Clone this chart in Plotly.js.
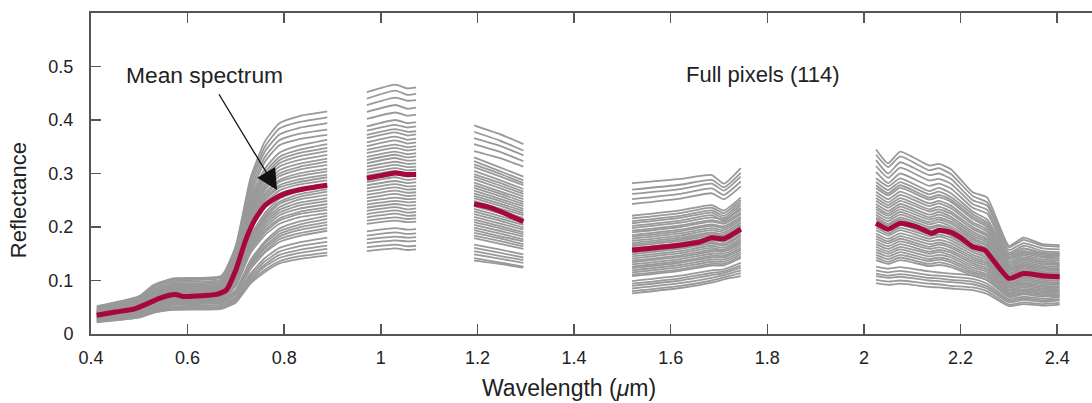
<!DOCTYPE html>
<html>
<head>
<meta charset="utf-8">
<script src="https://cdn.plot.ly/plotly-3.0.1.min.js"></script>
<style>html,body{margin:0;padding:0;background:#fff;}#chart{width:1092px;height:403px;}</style>
</head>
<body>
<div id="chart"></div>
<script>
// Wavelength grids (µm) of the gray pixel spectra, one per band segment
const wlVNIR = [0.412, 0.50, 0.53, 0.57, 0.67, 0.70, 0.73, 0.76, 0.79, 0.83, 0.889];
const wlS1 = [0.971, 1.03, 1.055, 1.073];
const wlS2 = [1.193, 1.245, 1.295];
const wlS3 = [1.52, 1.62, 1.685, 1.71, 1.745];
const wlS4 = [2.025, 2.05, 2.075, 2.135, 2.155, 2.18, 2.225, 2.255, 2.30, 2.33, 2.37, 2.405];

// Reflectance of the individual pixels (rows), per segment
const pixVNIR = [
[0.052,0.071,0.092,0.104,0.109,0.166,0.291,0.360,0.394,0.407,0.416],
[0.051,0.069,0.090,0.102,0.107,0.163,0.284,0.350,0.384,0.396,0.405],
[0.050,0.068,0.088,0.100,0.105,0.159,0.276,0.341,0.373,0.385,0.394],
[0.049,0.066,0.085,0.097,0.102,0.154,0.268,0.331,0.362,0.374,0.382],
[0.047,0.064,0.083,0.094,0.099,0.150,0.261,0.322,0.353,0.364,0.372],
[0.046,0.063,0.081,0.092,0.097,0.146,0.255,0.309,0.339,0.352,0.363],
[0.045,0.061,0.079,0.090,0.095,0.143,0.249,0.302,0.331,0.344,0.355],
[0.044,0.060,0.077,0.088,0.092,0.140,0.244,0.296,0.325,0.338,0.348],
[0.043,0.059,0.077,0.087,0.091,0.138,0.240,0.291,0.319,0.332,0.342],
[0.043,0.058,0.076,0.086,0.090,0.136,0.235,0.285,0.313,0.325,0.335],
[0.042,0.057,0.074,0.084,0.088,0.133,0.230,0.279,0.306,0.318,0.328],
[0.041,0.056,0.073,0.083,0.087,0.131,0.226,0.274,0.300,0.312,0.322],
[0.041,0.056,0.072,0.082,0.086,0.129,0.222,0.269,0.295,0.307,0.316],
[0.040,0.054,0.070,0.080,0.084,0.126,0.217,0.263,0.288,0.300,0.309],
[0.040,0.054,0.070,0.079,0.083,0.124,0.214,0.259,0.284,0.295,0.304],
[0.039,0.053,0.069,0.078,0.082,0.122,0.210,0.254,0.278,0.289,0.298],
[0.038,0.052,0.068,0.077,0.081,0.120,0.207,0.250,0.274,0.284,0.293],
[0.038,0.051,0.066,0.075,0.079,0.117,0.202,0.245,0.268,0.279,0.287],
[0.037,0.050,0.065,0.074,0.078,0.115,0.198,0.240,0.262,0.273,0.281],
[0.037,0.050,0.064,0.073,0.077,0.108,0.183,0.226,0.253,0.267,0.277],
[0.036,0.049,0.063,0.072,0.076,0.106,0.179,0.221,0.247,0.261,0.271],
[0.035,0.048,0.062,0.071,0.075,0.104,0.176,0.217,0.243,0.256,0.266],
[0.035,0.048,0.062,0.070,0.074,0.102,0.173,0.213,0.237,0.251,0.260],
[0.034,0.046,0.060,0.068,0.071,0.100,0.168,0.208,0.232,0.245,0.254],
[0.034,0.046,0.059,0.067,0.070,0.098,0.165,0.204,0.227,0.240,0.249],
[0.033,0.045,0.058,0.066,0.069,0.096,0.162,0.199,0.222,0.234,0.243],
[0.033,0.044,0.057,0.065,0.068,0.094,0.158,0.194,0.216,0.228,0.237],
[0.032,0.044,0.056,0.064,0.067,0.093,0.155,0.190,0.212,0.224,0.232],
[0.031,0.042,0.055,0.062,0.065,0.090,0.151,0.185,0.206,0.218,0.226],
[0.031,0.041,0.054,0.061,0.064,0.083,0.138,0.173,0.197,0.210,0.221],
[0.030,0.041,0.053,0.060,0.063,0.082,0.134,0.169,0.192,0.204,0.215],
[0.030,0.040,0.052,0.059,0.062,0.080,0.131,0.164,0.187,0.199,0.209],
[0.029,0.039,0.051,0.058,0.061,0.078,0.128,0.160,0.182,0.194,0.204],
[0.028,0.038,0.049,0.056,0.059,0.076,0.124,0.155,0.177,0.188,0.198],
[0.028,0.037,0.048,0.055,0.058,0.074,0.121,0.152,0.172,0.183,0.193],
[0.026,0.035,0.046,0.052,0.055,0.070,0.113,0.142,0.161,0.171,0.180],
[0.025,0.035,0.045,0.051,0.054,0.068,0.109,0.136,0.154,0.164,0.172],
[0.025,0.033,0.043,0.049,0.051,0.065,0.105,0.130,0.148,0.157,0.165],
[0.024,0.033,0.042,0.048,0.050,0.064,0.101,0.126,0.142,0.151,0.159],
[0.023,0.031,0.040,0.046,0.048,0.061,0.097,0.120,0.136,0.145,0.152],
[0.022,0.031,0.040,0.045,0.047,0.059,0.094,0.116,0.132,0.140,0.147]
];
const pixS1 = [
[0.452,0.466,0.459,0.461],[0.440,0.455,0.447,0.449],[0.428,0.442,0.436,0.437],[0.415,0.428,0.421,0.423],
[0.402,0.414,0.408,0.410],[0.388,0.400,0.394,0.396],[0.380,0.391,0.386,0.388],[0.372,0.383,0.378,0.379],
[0.366,0.377,0.371,0.373],[0.358,0.369,0.363,0.365],[0.351,0.362,0.356,0.358],[0.344,0.354,0.349,0.351],
[0.338,0.348,0.343,0.345],[0.331,0.341,0.336,0.338],[0.325,0.335,0.330,0.332],[0.319,0.329,0.324,0.325],
[0.313,0.322,0.318,0.319],[0.307,0.316,0.312,0.313],[0.301,0.310,0.306,0.307],[0.296,0.305,0.300,0.302],
[0.290,0.299,0.294,0.296],[0.284,0.293,0.288,0.290],[0.278,0.286,0.282,0.284],[0.272,0.280,0.276,0.277],
[0.266,0.274,0.270,0.271],[0.260,0.268,0.264,0.265],[0.254,0.262,0.258,0.259],[0.248,0.255,0.252,0.253],
[0.242,0.249,0.246,0.247],[0.236,0.243,0.240,0.241],[0.230,0.237,0.233,0.235],[0.224,0.231,0.227,0.228],
[0.218,0.225,0.221,0.222],[0.212,0.218,0.215,0.216],[0.206,0.212,0.209,0.210],[0.192,0.198,0.195,0.196],
[0.184,0.190,0.187,0.188],[0.177,0.182,0.180,0.181],[0.170,0.175,0.173,0.174],[0.162,0.167,0.164,0.165],
[0.155,0.160,0.157,0.158]
];
const pixS2 = [
[0.390,0.374,0.355],[0.378,0.362,0.343],[0.366,0.352,0.334],[0.355,0.341,0.323],[0.342,0.329,0.313],
[0.330,0.312,0.294],[0.323,0.305,0.287],[0.317,0.300,0.282],[0.312,0.295,0.278],[0.305,0.288,0.271],
[0.299,0.283,0.266],[0.294,0.278,0.262],[0.289,0.273,0.257],[0.283,0.267,0.252],[0.278,0.263,0.247],
[0.273,0.258,0.243],[0.268,0.253,0.239],[0.263,0.249,0.234],[0.258,0.244,0.230],[0.254,0.240,0.226],
[0.249,0.235,0.222],[0.244,0.231,0.217],[0.239,0.226,0.213],[0.234,0.221,0.208],[0.229,0.216,0.204],
[0.224,0.212,0.199],[0.219,0.207,0.195],[0.214,0.202,0.190],[0.209,0.198,0.186],[0.204,0.193,0.182],
[0.199,0.188,0.177],[0.194,0.183,0.173],[0.189,0.179,0.168],[0.184,0.174,0.164],[0.179,0.169,0.159],
[0.167,0.158,0.149],[0.161,0.152,0.143],[0.155,0.146,0.138],[0.149,0.141,0.133],[0.142,0.134,0.126],
[0.137,0.131,0.124]
];
const pixS3 = [
[0.282,0.290,0.297,0.281,0.310],[0.270,0.279,0.288,0.274,0.301],[0.262,0.271,0.281,0.268,0.294],
[0.252,0.262,0.272,0.260,0.285],[0.243,0.253,0.263,0.252,0.276],[0.221,0.231,0.241,0.231,0.255],
[0.216,0.226,0.236,0.226,0.250],[0.211,0.221,0.231,0.221,0.245],[0.207,0.217,0.227,0.217,0.241],
[0.202,0.212,0.222,0.212,0.236],[0.198,0.208,0.218,0.214,0.232],[0.193,0.203,0.213,0.209,0.227],
[0.190,0.200,0.210,0.206,0.224],[0.185,0.195,0.205,0.201,0.219],[0.182,0.192,0.202,0.198,0.216],
[0.178,0.188,0.198,0.194,0.212],[0.174,0.184,0.194,0.190,0.208],[0.170,0.180,0.190,0.186,0.204],
[0.167,0.177,0.187,0.183,0.201],[0.164,0.174,0.184,0.180,0.198],[0.160,0.170,0.180,0.176,0.194],
[0.156,0.166,0.176,0.172,0.190],[0.152,0.162,0.172,0.168,0.186],[0.149,0.159,0.169,0.165,0.183],
[0.145,0.155,0.165,0.161,0.179],[0.141,0.151,0.161,0.157,0.175],[0.137,0.147,0.157,0.157,0.171],
[0.134,0.144,0.154,0.154,0.168],[0.130,0.140,0.150,0.150,0.164],[0.126,0.136,0.146,0.146,0.160],
[0.123,0.133,0.143,0.143,0.157],[0.119,0.129,0.139,0.139,0.153],[0.115,0.125,0.135,0.135,0.149],
[0.111,0.121,0.131,0.131,0.145],[0.108,0.118,0.128,0.128,0.142],[0.099,0.109,0.119,0.121,0.133],
[0.094,0.104,0.114,0.117,0.128],[0.090,0.100,0.110,0.114,0.124],[0.085,0.095,0.105,0.110,0.119],
[0.080,0.090,0.100,0.106,0.114],[0.076,0.086,0.096,0.102,0.108]
];
const pixS4 = [
[0.345,0.319,0.341,0.315,0.318,0.308,0.265,0.255,0.165,0.180,0.168,0.166],
[0.335,0.312,0.332,0.306,0.310,0.299,0.258,0.246,0.162,0.176,0.165,0.163],
[0.325,0.300,0.321,0.297,0.300,0.290,0.250,0.240,0.157,0.170,0.160,0.158],
[0.314,0.292,0.311,0.287,0.290,0.281,0.243,0.232,0.152,0.165,0.155,0.153],
[0.303,0.282,0.300,0.277,0.281,0.272,0.236,0.225,0.148,0.160,0.150,0.149],
[0.291,0.276,0.291,0.267,0.273,0.263,0.229,0.214,0.149,0.160,0.152,0.150],
[0.284,0.269,0.284,0.261,0.266,0.256,0.224,0.208,0.145,0.156,0.148,0.147],
[0.278,0.263,0.278,0.255,0.260,0.251,0.219,0.204,0.142,0.153,0.145,0.144],
[0.273,0.259,0.273,0.251,0.256,0.247,0.215,0.200,0.140,0.150,0.143,0.141],
[0.266,0.252,0.266,0.244,0.249,0.240,0.209,0.195,0.136,0.147,0.139,0.138],
[0.260,0.246,0.260,0.239,0.244,0.235,0.205,0.191,0.133,0.143,0.136,0.134],
[0.254,0.241,0.254,0.233,0.238,0.229,0.200,0.186,0.130,0.140,0.133,0.131],
[0.249,0.236,0.249,0.229,0.233,0.225,0.196,0.183,0.127,0.137,0.130,0.129],
[0.243,0.230,0.243,0.223,0.228,0.219,0.191,0.178,0.124,0.134,0.127,0.126],
[0.238,0.225,0.238,0.218,0.223,0.215,0.187,0.175,0.122,0.131,0.124,0.123],
[0.233,0.221,0.233,0.214,0.218,0.210,0.183,0.171,0.119,0.128,0.122,0.120],
[0.228,0.216,0.228,0.209,0.214,0.206,0.179,0.167,0.117,0.126,0.119,0.118],
[0.223,0.211,0.223,0.205,0.209,0.201,0.176,0.164,0.114,0.123,0.116,0.115],
[0.218,0.206,0.218,0.200,0.204,0.197,0.172,0.160,0.112,0.120,0.114,0.113],
[0.214,0.203,0.214,0.196,0.201,0.193,0.168,0.157,0.110,0.118,0.112,0.111],
[0.209,0.198,0.209,0.192,0.196,0.189,0.164,0.153,0.107,0.115,0.109,0.108],
[0.204,0.193,0.204,0.187,0.191,0.184,0.161,0.150,0.104,0.112,0.106,0.105],
[0.199,0.188,0.199,0.183,0.186,0.180,0.157,0.146,0.102,0.110,0.104,0.103],
[0.194,0.184,0.194,0.178,0.182,0.175,0.153,0.142,0.099,0.107,0.101,0.100],
[0.188,0.178,0.188,0.173,0.176,0.170,0.148,0.138,0.096,0.104,0.098,0.097],
[0.183,0.173,0.183,0.168,0.171,0.165,0.144,0.134,0.094,0.101,0.096,0.095],
[0.178,0.169,0.178,0.163,0.167,0.161,0.140,0.131,0.091,0.098,0.093,0.092],
[0.173,0.164,0.173,0.159,0.162,0.156,0.136,0.127,0.089,0.095,0.090,0.089],
[0.168,0.159,0.168,0.154,0.157,0.152,0.132,0.123,0.086,0.093,0.088,0.087],
[0.163,0.154,0.163,0.150,0.153,0.147,0.128,0.120,0.083,0.090,0.085,0.084],
[0.158,0.150,0.158,0.145,0.148,0.143,0.124,0.116,0.081,0.087,0.082,0.082],
[0.153,0.145,0.153,0.140,0.143,0.138,0.120,0.112,0.078,0.084,0.080,0.079],
[0.148,0.140,0.148,0.136,0.139,0.134,0.116,0.109,0.076,0.082,0.077,0.077],
[0.143,0.135,0.143,0.131,0.134,0.129,0.113,0.105,0.073,0.079,0.075,0.074],
[0.138,0.131,0.138,0.127,0.129,0.125,0.109,0.101,0.071,0.076,0.072,0.071],
[0.126,0.122,0.125,0.117,0.115,0.113,0.109,0.100,0.069,0.074,0.070,0.073],
[0.119,0.115,0.118,0.110,0.109,0.107,0.103,0.094,0.065,0.070,0.066,0.069],
[0.113,0.109,0.112,0.105,0.104,0.101,0.098,0.089,0.062,0.067,0.063,0.065],
[0.108,0.105,0.107,0.100,0.099,0.097,0.093,0.085,0.059,0.064,0.060,0.063],
[0.101,0.098,0.100,0.094,0.093,0.090,0.087,0.080,0.055,0.059,0.056,0.058],
[0.095,0.092,0.094,0.088,0.087,0.085,0.082,0.075,0.052,0.056,0.053,0.055]
];

// Mean spectrum (per segment)
const meanWlVNIR = [0.412,0.45,0.49,0.52,0.54,0.56,0.575,0.59,0.62,0.66,0.68,0.70,0.72,0.74,0.76,0.78,0.80,0.84,0.889];
const meanVNIR = [0.035,0.041,0.047,0.058,0.066,0.072,0.074,0.070,0.071,0.074,0.082,0.120,0.175,0.215,0.240,0.253,0.262,0.271,0.278];
const meanWlS1 = [0.971,1.00,1.03,1.055,1.073];
const meanS1 = [0.291,0.296,0.301,0.298,0.298];
const meanWlS2 = [1.193,1.22,1.245,1.27,1.295];
const meanS2 = [0.243,0.238,0.230,0.220,0.210];
const meanWlS3 = [1.52,1.60,1.66,1.685,1.71,1.745];
const meanS3 = [0.157,0.164,0.172,0.180,0.178,0.196];
const meanWlS4 = [2.025,2.05,2.075,2.11,2.14,2.155,2.18,2.20,2.225,2.25,2.27,2.30,2.33,2.37,2.405];
const meanS4 = [0.207,0.196,0.207,0.200,0.188,0.194,0.190,0.180,0.163,0.157,0.135,0.104,0.113,0.109,0.107];

// Text
const xTickVals = [0.4,0.6,0.8,1,1.2,1.4,1.6,1.8,2,2.2,2.4];
const yTickVals = [0,0.1,0.2,0.3,0.4,0.5];
const xTitle = 'Wavelength (<i>\u03bc</i>m)';
const yTitle = 'Reflectance';
const meanLabel = 'Mean spectrum';
const countLabel = 'Full pixels (114)';

function joinSegments(wls, vals) {
  const x = [], y = [];
  wls.forEach((w, i) => {
    if (i > 0) { x.push(null); y.push(null); }
    w.forEach((v, j) => { x.push(v); y.push(vals[i][j]); });
  });
  return {x, y};
}

const traces = [];
const wlSegs = [wlVNIR, wlS1, wlS2, wlS3, wlS4];
for (let p = 0; p < pixVNIR.length; p++) {
  const d = joinSegments(wlSegs, [pixVNIR[p], pixS1[p], pixS2[p], pixS3[p], pixS4[p]]);
  traces.push({x: d.x, y: d.y, type: 'scatter', mode: 'lines', connectgaps: false,
    line: {color: '#999999', width: 1.8, shape: 'spline', smoothing: 0.5}, hoverinfo: 'skip', showlegend: false});
}
const m = joinSegments([meanWlVNIR, meanWlS1, meanWlS2, meanWlS3, meanWlS4], [meanVNIR, meanS1, meanS2, meanS3, meanS4]);
traces.push({x: m.x, y: m.y, type: 'scatter', mode: 'lines', connectgaps: false,
  line: {color: '#a7073b', width: 5, shape: 'spline', smoothing: 0.5}, hoverinfo: 'skip', showlegend: false});

const font = 'Liberation Sans, Arial, sans-serif';
const axisColor = '#555555';
const layout = {
  width: 1092, height: 403,
  margin: {l: 91, r: 0, t: 13, b: 69},
  paper_bgcolor: '#ffffff', plot_bgcolor: '#ffffff',
  showlegend: false,
  font: {family: font, color: '#222222', size: 18},
  xaxis: {range: [0.4, 2.472], tickvals: xTickVals, ticks: 'inside', ticklen: 10, tickwidth: 1.5,
    tickcolor: axisColor, showline: true, linecolor: axisColor, linewidth: 2, mirror: 'ticks',
    showgrid: false, zeroline: false, tickfont: {size: 18, family: font, color: '#222'}, ticklabelstandoff: 6},
  yaxis: {range: [0, 0.6], tickvals: yTickVals, ticks: 'inside', ticklen: 10, tickwidth: 1.5,
    tickcolor: axisColor, showline: true, linecolor: axisColor, linewidth: 2, mirror: false,
    showgrid: false, zeroline: false, tickfont: {size: 18, family: font, color: '#222'}, ticklabelstandoff: 12},
  annotations: [
    {xref: 'paper', yref: 'paper', x: 0.4775, y: 0, yshift: -54, xanchor: 'center', yanchor: 'middle',
     text: xTitle, showarrow: false, font: {size: 23, family: font, color: '#222'}},
    {xref: 'paper', yref: 'paper', x: 0, xshift: -73, y: 0.417, xanchor: 'center', yanchor: 'middle',
     text: yTitle, textangle: -90, showarrow: false, font: {size: 22, family: font, color: '#222'}},
    {xref: 'x', yref: 'y', x: 0.6355, y: 0.485, xanchor: 'center', yanchor: 'middle',
     text: meanLabel, showarrow: false, font: {size: 22.8, family: font, color: '#222'}},
    {xref: 'x', yref: 'y', x: 1.791, y: 0.485, xanchor: 'center', yanchor: 'middle',
     text: countLabel, showarrow: false, font: {size: 22, family: font, color: '#222'}},
    {xref: 'x', yref: 'y', x: 0.785, y: 0.269, axref: 'x', ayref: 'y', ax: 0.663, ay: 0.451,
     text: '', showarrow: true, arrowhead: 2, arrowsize: 3.2, arrowwidth: 1.3, arrowcolor: '#111', standoff: 0}
  ]
};

Plotly.newPlot('chart', traces, layout, {displayModeBar: false, staticPlot: true});
</script>
</body>
</html>
